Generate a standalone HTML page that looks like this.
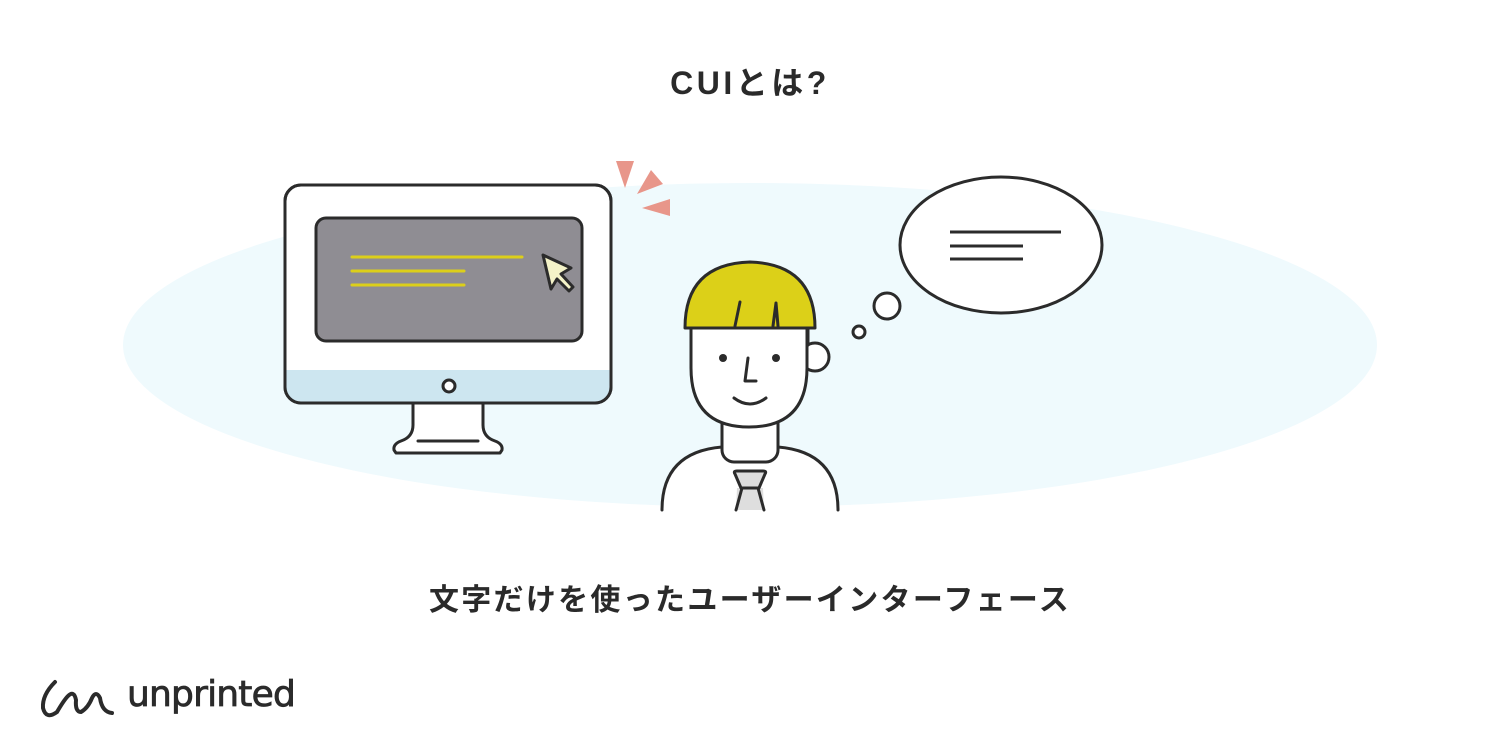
<!DOCTYPE html>
<html><head><meta charset="utf-8"><style>
html,body{margin:0;padding:0;background:#fff;}
body{width:1500px;height:750px;overflow:hidden;position:relative;font-family:"Liberation Sans","Noto Sans CJK JP",sans-serif;}
.t{position:absolute;left:0;width:1500px;text-align:center;color:#2a2a2a;font-weight:bold;}
</style></head><body>
<svg width="1500" height="750" style="position:absolute;left:0;top:0" xmlns="http://www.w3.org/2000/svg">
<ellipse cx="750" cy="345" rx="627" ry="162" fill="#effafd"/>
<g stroke="#2b2b2b" stroke-width="3" stroke-linejoin="round" stroke-linecap="round">
<path d="M413 403 L413 425 Q413 437 401 441 Q393 444 394 450 L396 453 L500 453 L502 450 Q503 444 495 441 Q483 437 483 425 L483 403 Z" fill="#fff"/>
<line x1="418" y1="441" x2="478" y2="441"/>
<rect x="285" y="185" width="326" height="218" rx="16" fill="#fff"/>
<path d="M286.5 370 L609.5 370 L609.5 387 Q609.5 401.5 595 401.5 L301 401.5 Q286.5 401.5 286.5 387 Z" fill="#cde6f0" stroke="none"/>
<rect x="285" y="185" width="326" height="218" rx="16" fill="none"/>
<circle cx="449" cy="386" r="6" fill="#fff"/>
<rect x="316" y="218" width="266" height="123" rx="10" fill="#8f8d93"/>
</g>
<g stroke="#dccf1a" stroke-width="3" stroke-linecap="round">
<line x1="352" y1="257" x2="522" y2="257"/>
<line x1="352" y1="271" x2="464" y2="271"/>
<line x1="352" y1="285" x2="464" y2="285"/>
</g>
<path d="M543 255 L571 268 L561 274 L573 287 L569 291 L557 279 L551 289 Z" fill="#f4f3c8" stroke="#2b2b2b" stroke-width="3" stroke-linejoin="round"/>
<g fill="#e8968a">
<polygon points="616,161 634,161 625,188"/>
<polygon points="651,170 663,184 637,194"/>
<polygon points="642,208 670,199 670,216"/>
</g>
<g stroke="#2b2b2b" stroke-width="3" stroke-linejoin="round" stroke-linecap="round" fill="#fff">
<path d="M662 510 Q662 452 722 447 L778 447 Q838 452 838 510"/>
<rect x="722" y="410" width="56" height="52" rx="12"/>
<path d="M737 488 L763 488 L764 510 L736 510 Z" fill="#dedede" stroke="none"/>
<path d="M742 488 L736 510 M758 488 L764 510" fill="none"/>
<path d="M735 474 Q733 471 737 471 L763 471 Q767 471 765 474 L759 488 L741 488 Z" fill="#dedede"/>
<circle cx="815" cy="357" r="14"/>
<path d="M691 325 L691 368 Q691 427 749 427 Q807 427 807 368 L807 325 Z"/>
<path d="M685 328 Q685 264 750 262 Q815 264 815 328 Z" fill="#dcd018"/>
<path d="M808 328 L808 345" fill="none"/>
<path d="M740 302 L735 326 M776 303 L773 326 M776 303 L778 326" fill="none"/>
<circle cx="859" cy="332" r="6"/>
<circle cx="887" cy="306" r="13"/>
<ellipse cx="1001" cy="245" rx="101" ry="68"/>
<path d="M748 358 L745 381 L756 381 M734 398 Q750 410 766 398" fill="none"/>
</g>
<circle cx="723" cy="358" r="4" fill="#2b2b2b"/>
<circle cx="776" cy="358" r="4" fill="#2b2b2b"/>
<g stroke="#2b2b2b" stroke-width="3">
<line x1="950" y1="232" x2="1061" y2="232"/>
<line x1="950" y1="246" x2="1023" y2="246"/>
<line x1="950" y1="259" x2="1023" y2="259"/>
</g>
<path d="M55 682 Q42 695 43 708 Q46 720 57 712 Q64 700 68 696 Q74 690 76 700 Q75 712 81 712 Q88 708 92 698 Q96 690 100 698 Q102 712 112 713" fill="none" stroke="#2b2b2b" stroke-width="4" stroke-linecap="round"/>
</svg>
<div class="t" style="top:58px;font-size:32px;letter-spacing:3.5px;">CUIとは?</div>
<div class="t" style="top:575px;font-size:30px;letter-spacing:2.3px;">文字だけを使ったユーザーインターフェース</div>
<div style="position:absolute;left:127px;top:674px;font-size:36px;color:#2b2b2b;font-family:'DejaVu Sans','Liberation Sans',sans-serif;letter-spacing:-0.8px;font-weight:normal;-webkit-text-stroke:0.8px #2b2b2b;">unprinted</div>
</body></html>
